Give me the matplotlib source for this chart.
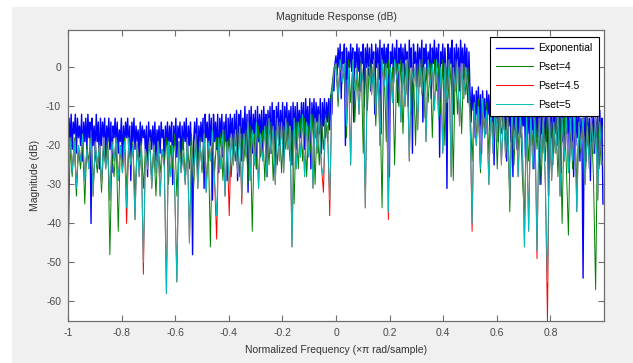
import matplotlib
matplotlib.use('Agg')
import matplotlib.pyplot as plt
import numpy as np
from matplotlib.patches import Rectangle

plt.rcParams['font.family'] = ['Liberation Sans', 'DejaVu Sans']
plt.rcParams['axes.unicode_minus'] = False

# magnitude responses in dB
exponential_db = [
    -30, -13, -19, -12, -21, -14, -17, -12, -22, -13, -18, -15, -20, -12, -24, -14,
    -19, -13, -21, -12, -18, -14, -40, -13, -20, -15, -22, -12, -19, -14, -26, -13,
    -20, -14, -18, -13, -23, -15, -19, -13, -21, -14, -27, -15, -18, -13, -20, -14,
    -22, -16, -19, -13, -25, -15, -20, -14, -18, -13, -21, -15, -29, -14, -19, -13,
    -21, -15, -19, -16, -23, -14, -20, -15, -18, -16, -22, -15, -28, -14, -19, -16,
    -21, -15, -20, -14, -24, -16, -19, -15, -22, -14, -18, -16, -25, -15, -20, -14,
    -22, -15, -19, -14, -30, -15, -20, -13, -23, -15, -18, -14, -26, -15, -21, -14,
    -19, -13, -24, -15, -20, -14, -22, -48, -19, -14, -21, -13, -27, -15, -20, -14,
    -19, -13, -31, -12, -18, -14, -22, -12, -20, -13, -34, -12, -19, -14, -21, -12,
    -27, -13, -18, -12, -23, -14, -19, -12, -29, -13, -20, -12, -18, -13, -24, -12,
    -20, -11, -29, -12, -17, -11, -24, -13, -18, -10, -21, -12, -32, -11, -18, -10,
    -22, -12, -17, -11, -26, -10, -19, -12, -18, -11, -23, -10, -17, -12, -28, -11,
    -17, -10, -22, -9, -16, -11, -27, -10, -16, -9, -20, -11, -17, -9, -24, -10,
    -16, -9, -19, -11, -15, -10, -25, -9, -17, -10, -21, -9, -16, -11, -18, -9,
    -16, -9, -21, -8, -15, -10, -19, -8, -26, -9, -15, -8, -18, -9, -14, -10,
    -17, -8, -22, -9, -15, -8, -18, -9, -14, -8, -16, -7, -12, -3, -6, 1,
    3, -2, 5, 0, 6, -8, 4, 1, 6, -20, 5, -3, 4, 0, 6, -1,
    5, -14, 4, 0, 6, -1, 5, -6, 4, 1, 6, -10, 5, 0, 6, -2,
    5, -6, 6, 1, 4, -12, 6, 0, 5, -3, 7, -17, 5, 1, 6, -2,
    5, 0, 6, -28, 4, 1, 6, -4, 5, 0, 7, -9, 5, 1, 6, -1,
    5, -4, 6, 2, 4, -10, 7, 0, 5, -22, 6, 1, 4, -5, 6, -1,
    5, 0, 7, -14, 5, 1, 6, -3, 4, 0, 6, -8, 5, 1, 7, -2,
    5, 0, 6, -23, 4, 1, 6, -3, 5, 0, -31, 6, -2, 5, 1, 7,
    -12, 5, -2, 6, 0, 5, -6, 7, 1, 5, -3, 6, 0, 5, -9, 4,
    -6, -14, -5, -11, -7, -18, -6, -12, -5, -15, -7, -22, -6, -13, -8, -17,
    -6, -12, -7, -16, -5, -14, -8, -25, -7, -13, -6, -19, -8, -12, -7, -15,
    -9, -16, -8, -24, -10, -15, -9, -19, -8, -28, -9, -16, -10, -21, -9, -17,
    -8, -18, -10, -15, -9, -23, -8, -17, -10, -20, -9, -16, -11, -26, -9, -18,
    -10, -18, -11, -30, -10, -17, -12, -22, -10, -19, -11, -33, -12, -18, -10, -25,
    -11, -17, -10, -20, -12, -18, -11, -27, -10, -19, -12, -21, -11, -17, -10, -24,
    -11, -19, -12, -28, -11, -20, -12, -18, -11, -24, -13, -20, -54, -18, -12, -24,
    -11, -20, -13, -29, -12, -19, -11, -22, -13, -18, -12, -26, -11, -20, -13, -35,
]

pset4_db = [
    -52, -20, -28, -18, -33, -21, -26, -19, -35, -20, -24, -18, -30, -22, -27, -19,
    -32, -21, -25, -18, -48, -22, -28, -19, -42, -20, -26, -18, -31, -21, -24, -19,
    -34, -20, -26, -19, -31, -21, -25, -18, -29, -20, -33, -19, -27, -21, -24, -18,
    -30, -20, -26, -17, -33, -19, -24, -18, -29, -20, -26, -17, -31, -19, -25, -18,
    -27, -17, -31, -19, -46, -16, -27, -18, -25, -17, -29, -16, -23, -18, -28, -17,
    -24, -15, -28, -17, -24, -16, -30, -15, -42, -17, -26, -15, -23, -16, -29, -15,
    -25, -14, -29, -16, -25, -14, -27, -15, -21, -14, -24, -16, -35, -14, -26, -13,
    -24, -13, -28, -15, -22, -12, -30, -14, -25, -13, -21, -12, -19, -9, -5, 0,
    1, -10, 2, -4, 0, -18, 2, -9, 1, -14, 0, -6, 2, -22, 1, -11,
    2, -4, 1, -15, 0, -8, -36, 1, -19, 2, -6, 0, -25, 1, -10, 2,
    -17, 1, -7, 2, -12, 0, -20, 1, -5, 2, -13, 0, -9, 1, -18, 2,
    -6, 1, -12, 2, -20, 0, -8, 1, -29, 2, -12, 0, -17, 1, -7, 0,
    -9, -24, -10, -18, -8, -27, -11, -16, -9, -22, -10, -19, -8, -26, -11, -17,
    -12, -20, -11, -37, -13, -25, -12, -21, -11, -28, -38, -12, -24, -13, -20, -11,
    -21, -13, -30, -12, -24, -11, -26, -14, -22, -12, -28, -13, -40, -11, -25, -43,
    -13, -26, -12, -31, -14, -22, -13, -27, -12, -24, -14, -29, -57, -13, -25, -15,
]

pset45_db = [
    -22, -18, -27, -19, -31, -20, -24, -17, -29, -21, -26, -18, -33, -19, -25, -20,
    -30, -18, -26, -21, -34, -19, -24, -18, -29, -20, -27, -19, -40, -18, -25, -20,
    -39, -19, -28, -20, -53, -21, -26, -18, -31, -20, -27, -19, -33, -21, -25, -58,
    -19, -28, -20, -32, -55, -19, -27, -22, -30, -18, -45, -20, -28, -17, -31, -19,
    -26, -17, -32, -19, -24, -16, -29, -44, -18, -26, -16, -33, -19, -38, -17, -25,
    -16, -27, -15, -35, -17, -23, -14, -29, -16, -25, -14, -31, -17, -24, -15, -28,
    -13, -22, -15, -30, -13, -24, -14, -27, -13, -21, -15, -46, -13, -26, -14, -23,
    -12, -28, -14, -23, -12, -31, -13, -22, -12, -25, -32, -13, -16, -38, -8, -1,
    1, -8, 2, -4, 1, -15, 0, -25, 2, -6, -1, -12, 1, -4, -36, 0,
    0, -7, 2, -12, 1, -20, 2, -5, 1, -39, 0, -9, 2, -3, 1, -14,
    1, -10, 2, -24, 0, -4, 1, -16, 2, -7, 0, -19, 2, -5, 1, -11,
    2, -13, 0, -22, 1, -9, 2, -28, 0, -6, 2, -15, 1, -8, 0, -5,
    -12, -42, -9, -20, -10, -26, -8, -18, -11, -30, -9, -22, -10, -17, -8, -25,
    -11, -23, -12, -34, -10, -21, -11, -28, -12, -19, -46, -12, -42, -11, -26, -13,
    -49, -13, -25, -12, -30, -65, -12, -29, -14, -22, -11, -33, -13, -24, -12, -27,
    -13, -24, -12, -37, -14, -21, -12, -30, -15, -26, -13, -22, -12, -34, -14, -25,
]

pset5_db = [
    -22, -18, -27, -19, -31, -20, -24, -17, -29, -21, -26, -18, -33, -19, -25, -20,
    -30, -18, -26, -21, -34, -19, -24, -18, -29, -20, -27, -19, -36, -18, -25, -20,
    -39, -19, -28, -20, -50, -21, -26, -18, -31, -20, -27, -19, -33, -21, -25, -58,
    -19, -28, -20, -32, -55, -19, -27, -22, -30, -18, -45, -20, -28, -17, -31, -19,
    -26, -17, -32, -19, -24, -16, -29, -38, -18, -26, -16, -33, -19, -30, -17, -25,
    -16, -27, -15, -33, -17, -23, -14, -29, -16, -25, -14, -31, -17, -24, -15, -28,
    -13, -22, -15, -30, -13, -24, -14, -27, -13, -21, -15, -46, -13, -26, -14, -23,
    -12, -28, -14, -23, -12, -31, -13, -22, -12, -25, -28, -13, -16, -34, -8, -1,
    1, -8, 2, -4, 1, -15, 0, -25, 2, -6, -1, -12, 1, -4, -36, 0,
    0, -7, 2, -12, 1, -20, 2, -5, 1, -37, 0, -9, 2, -3, 1, -14,
    1, -10, 2, -24, 0, -4, 1, -16, 2, -7, 0, -19, 2, -5, 1, -11,
    2, -13, 0, -22, 1, -9, 2, -28, 0, -6, 2, -15, 1, -8, 0, -5,
    -12, -40, -9, -20, -10, -26, -8, -18, -11, -30, -9, -22, -10, -17, -8, -25,
    -11, -23, -12, -34, -10, -21, -11, -28, -12, -19, -46, -12, -42, -11, -26, -13,
    -47, -13, -25, -12, -30, -55, -12, -29, -14, -22, -11, -33, -13, -24, -12, -27,
    -13, -24, -12, -37, -14, -21, -12, -30, -15, -26, -13, -22, -12, -34, -14, -25,
]

labels = ['Exponential', 'Pset=4', 'Pset=4.5', 'Pset=5']
colors = [(0, 0, 1), (0, 0.5, 0), (1, 0, 0), (0, 0.75, 0.75)]
widths = [1.0, 0.7, 0.7, 0.7]
x_ticks = [-1, -0.8, -0.6, -0.4, -0.2, 0, 0.2, 0.4, 0.6, 0.8]
x_ticklabels = ['-1', '-0.8', '-0.6', '-0.4', '-0.2', '0', '0.2', '0.4', '0.6', '0.8']
y_ticks = [-60, -50, -40, -30, -20, -10, 0]

fig = plt.figure(figsize=(6.33, 3.63), dpi=100, facecolor='white')
# grey MATLAB figure area (white strip at top and left of the screenshot)
fig.patches.append(Rectangle((12 / 633, 0), 1, 1 - 7 / 363, transform=fig.transFigure,
                             facecolor='#f0f0f0', edgecolor='none', zorder=-1))

ax = fig.add_axes([68 / 633, 1 - 321 / 363, 536 / 633, 291 / 363])
ax.set_facecolor('white')

for series, lab, col, lw in zip([exponential_db, pset4_db, pset45_db, pset5_db], labels, colors, widths):
    freq = np.linspace(-1, 1, len(series), endpoint=False)
    ax.plot(freq, series, color=col, linewidth=lw, label=lab)

ax.set_xlim(-1, 1)
ax.set_ylim(-65, 9.6)
ax.set_xticks(x_ticks)
ax.set_xticklabels(x_ticklabels)
ax.set_yticks(y_ticks)

for sp in ax.spines.values():
    sp.set_color('#6e6e6e')
    sp.set_linewidth(0.9)
ax.tick_params(direction='in', length=4, width=0.8, color='#6e6e6e', labelcolor='#4a4a4a',
               labelsize=7.5, top=True, right=True, pad=5)

ax.set_title('Magnitude Response (dB)', fontsize=7.5, color='#333333', pad=7)
ax.set_xlabel('Normalized Frequency (\u00d7\u03c0 rad/sample)', fontsize=7.5, color='#333333', labelpad=5)
ax.set_ylabel('Magnitude (dB)', fontsize=7.5, color='#333333', labelpad=4)

leg = ax.legend(loc='upper right', bbox_to_anchor=((599 - 68) / 536, (321 - 37) / 291),
                borderaxespad=0, fontsize=7.5, handlelength=3.6, handletextpad=0.5,
                labelspacing=0.85, fancybox=False, framealpha=1, borderpad=0.6)
leg.get_frame().set_edgecolor('black')
leg.get_frame().set_linewidth(0.8)

fig.savefig('out.png', dpi=100, facecolor=fig.get_facecolor())
